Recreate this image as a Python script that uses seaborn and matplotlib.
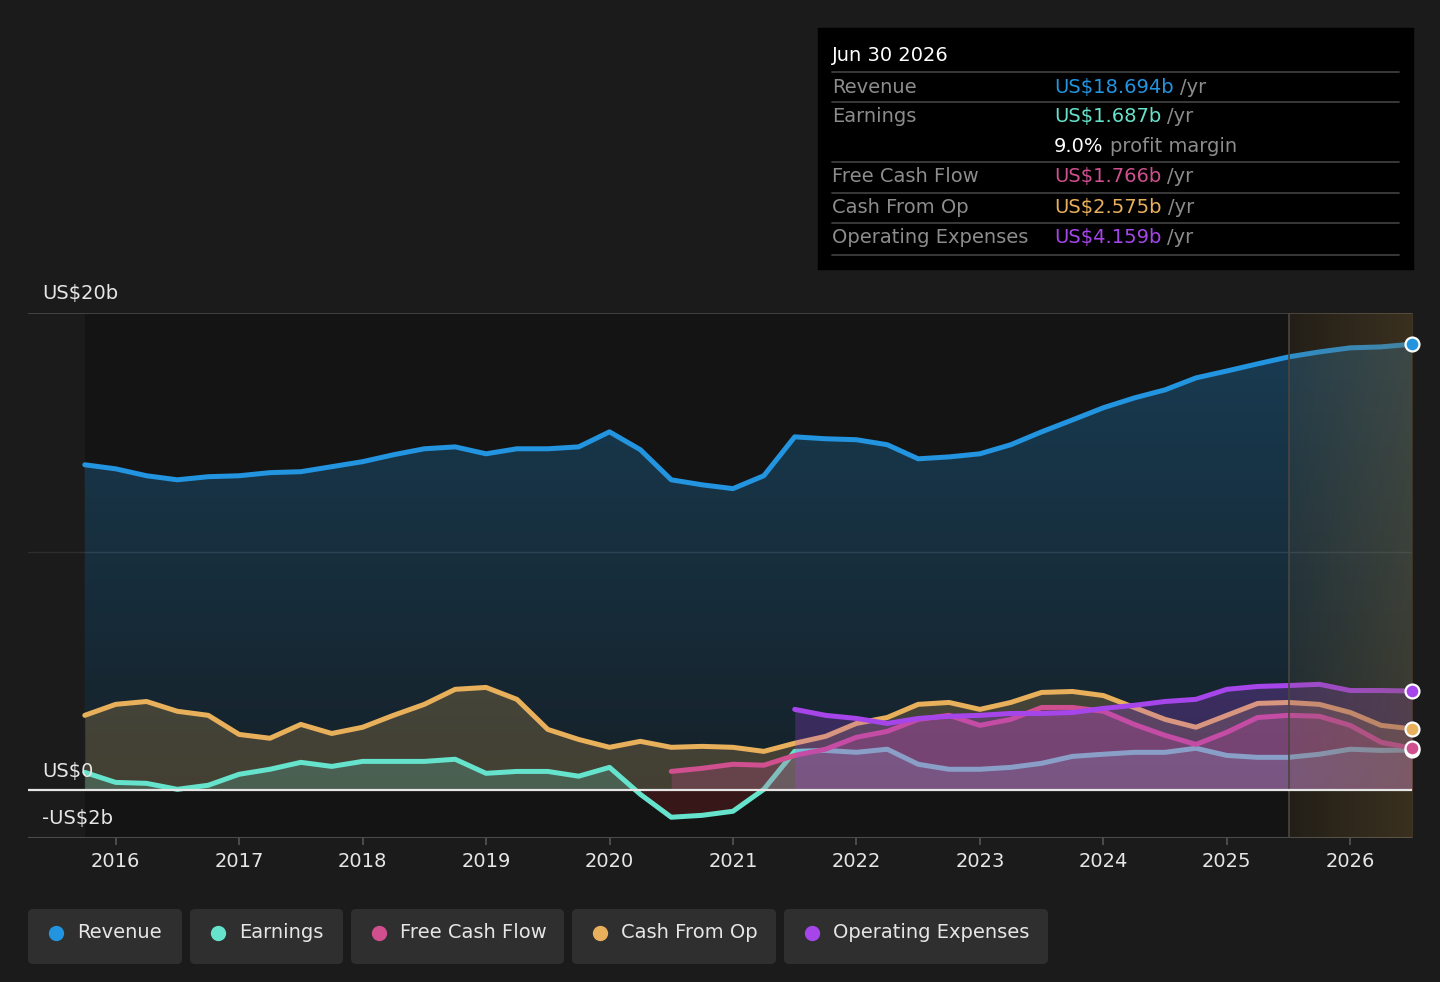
"""Revenue / earnings / cash flow history chart, dark theme."""

import numpy as np
import pandas as pd
import matplotlib
matplotlib.use("Agg")
import matplotlib.pyplot as plt
from matplotlib.patches import FancyBboxPatch, Rectangle
import seaborn as sns

# quarter-end dates as fractional years, Sep 30 2015 .. Jun 30 2026
periods = pd.period_range("2015Q3", "2026Q2", freq="Q")
t = np.array([p.year + p.quarter * 3 / 12 for p in periods])

revenue = [13.64, 13.47, 13.18, 13.01, 13.14, 13.18, 13.31, 13.35, 13.56,
           13.77, 14.06, 14.31, 14.39, 14.10, 14.31, 14.31, 14.39, 15.02,
           14.27, 13.01, 12.80, 12.64, 13.18, 14.81, 14.73, 14.69, 14.48,
           13.89, 13.97, 14.10, 14.48, 15.02, 15.52, 16.03, 16.44, 16.78,
           17.28, 17.57, 17.87, 18.16, 18.37, 18.54, 18.58, 18.694]
earnings = [0.75, 0.33, 0.29, 0.04, 0.21, 0.67, 0.88, 1.17, 1.00, 1.21, 1.21,
            1.21, 1.30, 0.71, 0.79, 0.79, 0.59, 0.96, -0.17, -1.13, -1.05,
            -0.88, 0.04, 1.63, 1.67, 1.59, 1.72, 1.09, 0.88, 0.88, 0.96, 1.13,
            1.42, 1.51, 1.59, 1.59, 1.76, 1.46, 1.38, 1.38, 1.51, 1.72, 1.67,
            1.687]
cash_from_op = [3.14, 3.60, 3.72, 3.31, 3.14, 2.34, 2.18, 2.76, 2.38, 2.64,
                3.14, 3.60, 4.23, 4.31, 3.81, 2.55, 2.13, 1.80, 2.05, 1.80,
                1.84, 1.80, 1.63, 1.97, 2.26, 2.80, 3.05, 3.60, 3.68, 3.39,
                3.68, 4.10, 4.14, 3.97, 3.47, 2.97, 2.64, 3.14, 3.64, 3.68,
                3.60, 3.26, 2.72, 2.575]
free_cash_flow = [np.nan] * 19 + [
    0.79, 0.92, 1.09, 1.05, 1.46, 1.72, 2.22, 2.47, 2.97, 3.14, 2.72, 2.97,
    3.47, 3.47, 3.31, 2.76, 2.30, 1.92, 2.43, 3.05, 3.14, 3.10, 2.72, 2.01,
    1.766]
operating_expenses = [np.nan] * 23 + [
    3.39, 3.14, 3.01, 2.80, 3.01, 3.10, 3.14, 3.22, 3.22, 3.26, 3.43, 3.56,
    3.72, 3.81, 4.23, 4.35, 4.39, 4.44, 4.18, 4.18, 4.159]

year_ticks = list(range(2016, 2027))
forecast_start = 2025.5

df = pd.DataFrame({
    "t": t,
    "Revenue": revenue,
    "Earnings": earnings,
    "Free Cash Flow": free_cash_flow,
    "Cash From Op": cash_from_op,
    "Operating Expenses": operating_expenses,
})

BG = "#1b1b1b"
PLOT_BG = "#141414"
colors = {
    "Revenue": "#2394df",
    "Earnings": "#66e3cc",
    "Free Cash Flow": "#cf4f8f",
    "Cash From Op": "#e9b05c",
    "Operating Expenses": "#a646ea",
}
FS = 14
LW = 3.6

sns.set_theme(style="dark")
plt.rcParams["font.family"] = ["DejaVu Sans"]

W, H = 1440, 982
fig = plt.figure(figsize=(W / 100, H / 100), dpi=100, facecolor=BG)
ax = fig.add_axes([28 / W, 1 - 838 / H, 1384 / W, 525 / H])
ax.set_facecolor(BG)
x0, x1 = 2015.29, 2026.5
ax.set_xlim(x0, x1)
ax.set_ylim(-2, 20)
for s in ax.spines.values():
    s.set_visible(False)
ax.grid(False)

# darker plot zone from the first data point
ax.axvspan(t[0], x1, color=PLOT_BG, lw=0, zorder=0)

# gridlines
ax.axhline(20, color="#4a4a4a", lw=1.2, zorder=1)
ax.axhline(10, color="#2e2e2e", lw=1.0, zorder=1)
ax.axhline(-2, color="#4a4a4a", lw=1.5, zorder=1)


def gradient_fill(col, a_top, a_bot, z):
    vals = df[col].to_numpy()
    poly = ax.fill_between(t, 0, vals, color="none", lw=0)
    rgb = matplotlib.colors.to_rgb(colors[col])
    grad = np.zeros((100, 1, 4))
    grad[:, 0, :3] = rgb
    grad[:, 0, 3] = np.linspace(a_top, a_bot, 100)
    im = ax.imshow(grad, extent=[x0, x1, 0, 20], aspect="auto",
                   origin="upper", zorder=z)
    im.set_clip_path(poly.get_paths()[0], transform=ax.transData)


def line(col, z):
    sns.lineplot(data=df, x="t", y=col, ax=ax, color=colors[col], lw=LW,
                 zorder=z, solid_joinstyle="round", solid_capstyle="round")


# revenue
gradient_fill("Revenue", 0.32, 0.10, 2)
line("Revenue", 3)

# cash from op
ax.fill_between(t, 0, df["Cash From Op"], color=colors["Cash From Op"],
                alpha=0.22, lw=0, zorder=4)
line("Cash From Op", 5)

# earnings (red fill below zero)
e = df["Earnings"].to_numpy()
ax.fill_between(t, 0, e, where=e >= 0, interpolate=True,
                color=colors["Earnings"], alpha=0.2, lw=0, zorder=6)
ax.fill_between(t, 0, e, where=e < 0, interpolate=True,
                color="#b52424", alpha=0.22, lw=0, zorder=6)
line("Earnings", 7)

# free cash flow
fcf = df["Free Cash Flow"].to_numpy()
ax.fill_between(t, 0, fcf, where=~np.isnan(fcf), color=colors["Free Cash Flow"],
                alpha=0.25, lw=0, zorder=8)
line("Free Cash Flow", 9)

# operating expenses
ox = df["Operating Expenses"].to_numpy()
ax.fill_between(t, 0, ox, where=~np.isnan(ox),
                color=colors["Operating Expenses"], alpha=0.25, lw=0, zorder=10)
line("Operating Expenses", 11)

# forecast shading
fgrad = np.zeros((1, 100, 4))
fgrad[0, :, :3] = (0.50, 0.39, 0.20)
fgrad[0, :, 3] = np.linspace(0.14, 0.36, 100)
ax.imshow(fgrad, extent=[forecast_start, x1, -2, 20], aspect="auto",
          zorder=12)
ax.axvline(forecast_start, color="#4a4640", lw=1.2, zorder=12)

# zero line
ax.axhline(0, color="#e6e6e6", lw=1.6, zorder=13)

# end markers
for col in ["Revenue", "Operating Expenses", "Cash From Op", "Earnings",
            "Free Cash Flow"]:
    ax.plot(t[-1], df[col].iloc[-1], "o", ms=10, mfc=colors[col], mec="white",
            mew=1.6, zorder=14, clip_on=False)

# axes labels
ax.set_xlabel("")
ax.set_ylabel("")
ax.set_yticks([])
ax.set_xticks(year_ticks)
ax.set_xticklabels([str(y) for y in year_ticks])
ax.tick_params(axis="x", colors="#e6e6e6", labelsize=FS, length=5,
               width=1.2, color="#555555", pad=5, direction="out", bottom=True)
for val, txt in [(20, "US$20b"), (0, "US$0"), (-2, "-US$2b")]:
    ax.annotate(txt, xy=(14 / 1384, val), xycoords=("axes fraction", "data"),
                xytext=(0, 7), textcoords="offset points", ha="left",
                va="bottom", color="#e6e6e6", fontsize=FS, zorder=15)

# overlay in pixel coordinates for tooltip and legend
ov = fig.add_axes([0, 0, 1, 1], facecolor="none")
ov.set_xlim(0, W)
ov.set_ylim(H, 0)
ov.axis("off")

ov.add_patch(Rectangle((818, 28), 595, 241, color="#000000", zorder=1))
ov.text(832, 55, "Jun 30 2026", color="white", fontsize=FS, va="center")
for yl in [72, 102, 162, 193, 223, 255]:
    ov.plot([832, 1399], [yl, yl], color="#3e3e3e", lw=1.3)

renderer = fig.canvas.get_renderer()
rows = [
    (87, "Revenue", "US$18.694b", colors["Revenue"]),
    (116, "Earnings", "US$1.687b", colors["Earnings"]),
    (176, "Free Cash Flow", "US$1.766b", colors["Free Cash Flow"]),
    (207, "Cash From Op", "US$2.575b", colors["Cash From Op"]),
    (237, "Operating Expenses", "US$4.159b", colors["Operating Expenses"]),
]
for y, lab, val, c in rows:
    ov.text(832, y, lab, color="#8c8c8c", fontsize=FS, va="center")
    vt = ov.text(1054, y, val, color=c, fontsize=FS, va="center")
    bb = vt.get_window_extent(renderer)
    ov.text(bb.x1 + 6, y, "/yr", color="#8c8c8c", fontsize=FS, va="center")
mt = ov.text(1054, 146, "9.0%", color="white", fontsize=FS, va="center")
bb = mt.get_window_extent(renderer)
ov.text(bb.x1 + 6, 146, "profit margin", color="#8c8c8c", fontsize=FS,
        va="center")

# legend pills
pills = [("Revenue", 28, 182), ("Earnings", 190, 343),
         ("Free Cash Flow", 351, 564), ("Cash From Op", 572, 776),
         ("Operating Expenses", 784, 1048)]
for name, xa, xb in pills:
    ov.add_patch(FancyBboxPatch((xa, 909), xb - xa, 55,
                                boxstyle="round,pad=0,rounding_size=5",
                                fc="#2f2f2f", ec="none"))
    ov.plot(xa + 28, 933, "o", ms=10, color=colors[name])
    ov.text(xa + 49, 933, name, color="#e6e6e6", fontsize=FS, va="center")

fig.savefig("out.png", dpi=100, facecolor=BG)
